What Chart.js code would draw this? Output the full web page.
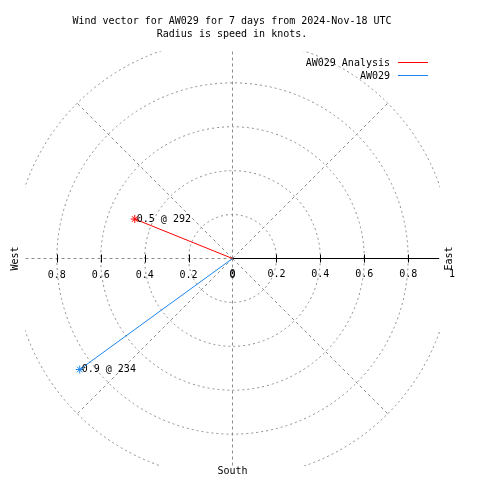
<!DOCTYPE html>
<html>
<head>
<meta charset="utf-8">
<script src="https://cdn.jsdelivr.net/npm/chart.js@4/dist/chart.umd.min.js"></script>
<style>
html,body{margin:0;padding:0;background:#fff;}
#wrap{width:480px;height:480px;}
</style>
</head>
<body>
<div id="wrap"><canvas id="c" width="480" height="480"></canvas></div>
<script>
// ---- data ----
const titleLines = ['Wind vector for AW029 for 7 days from 2024-Nov-18 UTC', 'Radius is speed in knots.'];
const seriesNames = ['AW029 Analysis', 'AW029'];
const speeds = [0.48, 0.86];          // knots
const directions = [292, 234];        // degrees (bearing)
const ringRadii = [0.2, 0.4, 0.6, 0.8, 1.0];
const spokeAngles = [0, 45, 90, 135, 180, 225, 270, 315];
const tickValues = [0.2, 0.4, 0.6, 0.8];
const leftTickValues = [0, 0.2, 0.4, 0.6, 0.8];
const leftTickLabels = ['0', '0.2', '0.4', '0.6', '0.8'];
const rightTickValues = [0, 0.2, 0.4, 0.6, 0.8, 1.0];
const rightTickLabels = ['0', '0.2', '0.4', '0.6', '0.8', '1'];
const compassLabels = ['West', 'East', 'South'];

const FONT = '10px "DejaVu Sans Mono"';
const colors = ['#ff0000', '#1c86ee'];
const R = 0.945;

function vec(s, d) {
  const a = d * Math.PI / 180;
  return {x: s * Math.sin(a), y: s * Math.cos(a)};
}

const datasets = seriesNames.map((name, i) => ({
  label: name,
  data: [{x: 0, y: 0}, vec(speeds[i], directions[i])],
  showLine: true,
  borderColor: colors[i],
  backgroundColor: colors[i],
  borderWidth: 1,
  pointStyle: 'star',
  pointRadius: [0, 4],
  pointBorderColor: colors[i],
  pointBorderWidth: 1,
  pointHoverRadius: 0
}));

const polarPlugin = {
  id: 'polar',
  beforeDatasetsDraw(chart) {
    const {ctx, chartArea: ca, scales: {x, y}} = chart;
    const cx = x.getPixelForValue(0), cy = y.getPixelForValue(0);
    const ppu = x.getPixelForValue(1) - cx;
    ctx.save();
    ctx.beginPath();
    ctx.rect(ca.left, ca.top, ca.right - ca.left, ca.bottom - ca.top);
    ctx.clip();
    ctx.strokeStyle = '#8c8c8c';
    ctx.lineWidth = 1;
    ctx.setLineDash([2, 3]);
    ringRadii.forEach(r => {
      ctx.beginPath();
      ctx.arc(cx, cy, r * ppu, 0, Math.PI * 2);
      ctx.stroke();
    });
    ctx.setLineDash([3, 3]);
    spokeAngles.forEach(a => {
      const p = vec(1.0, a);
      ctx.beginPath();
      ctx.moveTo(cx, cy);
      ctx.lineTo(x.getPixelForValue(p.x), y.getPixelForValue(p.y));
      ctx.stroke();
    });
    ctx.restore();

    // east axis line with ticks
    ctx.save();
    ctx.strokeStyle = '#000';
    ctx.lineWidth = 1;
    ctx.beginPath();
    ctx.moveTo(cx, cy);
    ctx.lineTo(ca.right - 1, cy);
    ctx.stroke();
    tickValues.forEach(v => {
      [v, -v].forEach(t => {
        const px = Math.round(x.getPixelForValue(t)) + 0.5;
        ctx.beginPath();
        ctx.moveTo(px, cy - 4);
        ctx.lineTo(px, cy + 4);
        ctx.stroke();
      });
    });
    ctx.fillStyle = '#000';
    ctx.font = FONT;
    ctx.textAlign = 'center';
    ctx.textBaseline = 'middle';
    leftTickValues.forEach((v, i) => {
      ctx.fillText(leftTickLabels[i], x.getPixelForValue(-v), cy + 17);
    });
    rightTickValues.forEach((v, i) => {
      ctx.fillText(rightTickLabels[i], x.getPixelForValue(v), cy + 16);
    });
    // compass labels
    ctx.save();
    ctx.translate(15, cy);
    ctx.rotate(-Math.PI / 2);
    ctx.fillText(compassLabels[0], 0, 0);
    ctx.restore();
    ctx.save();
    ctx.translate(449, cy);
    ctx.rotate(-Math.PI / 2);
    ctx.fillText(compassLabels[1], 0, 0);
    ctx.restore();
    ctx.fillText(compassLabels[2], cx, 471);
    ctx.restore();
  },
  afterDatasetsDraw(chart) {
    const {ctx} = chart;
    ctx.save();
    ctx.font = FONT;
    ctx.fillStyle = '#000';
    ctx.textAlign = 'left';
    ctx.textBaseline = 'middle';
    chart.data.datasets.forEach((ds, i) => {
      const pt = chart.getDatasetMeta(i).data[1];
      ctx.fillText(speeds[i].toFixed(1) + ' @ ' + directions[i], pt.x + 2, pt.y);
    });
    ctx.restore();
  },
  afterDraw(chart) {
    const {ctx} = chart;
    ctx.save();
    ctx.font = FONT;
    ctx.fillStyle = '#000';
    ctx.textBaseline = 'middle';
    ctx.textAlign = 'center';
    ctx.fillText(titleLines[0], 232, 21);
    ctx.fillText(titleLines[1], 232, 34);
    ctx.textAlign = 'right';
    chart.data.datasets.forEach((ds, i) => {
      const yy = 63 + i * 13;
      ctx.fillText(ds.label, 390, yy);
      ctx.strokeStyle = ds.borderColor;
      ctx.lineWidth = 1;
      ctx.beginPath();
      ctx.moveTo(398, yy - 0.5);
      ctx.lineTo(428, yy - 0.5);
      ctx.stroke();
    });
    ctx.restore();
  }
};

new Chart(document.getElementById('c'), {
  type: 'scatter',
  data: {datasets},
  options: {
    responsive: false,
    animation: false,
    events: [],
    layout: {padding: {left: 25, right: 40, top: 51, bottom: 14}},
    scales: {
      x: {type: 'linear', min: -R, max: R, display: false},
      y: {type: 'linear', min: -R, max: R, display: false}
    },
    plugins: {legend: {display: false}, title: {display: false}, tooltip: {enabled: false}}
  },
  plugins: [polarPlugin]
});
</script>
</body>
</html>
